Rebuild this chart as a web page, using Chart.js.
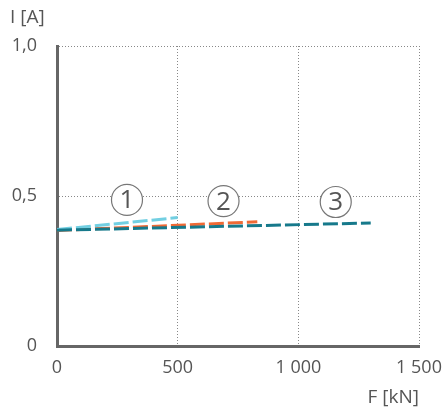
<!DOCTYPE html>
<html>
<head>
<meta charset="utf-8">
<script src="https://cdn.jsdelivr.net/npm/chart.js@4"></script>
<style>
  html, body { margin: 0; padding: 0; background: #fff; }
  #wrap { width: 443px; height: 410px; position: relative; }
</style>
</head>
<body>
<div id="wrap"><canvas id="chart"></canvas></div>
<script>
// Data
const xTicks = [0, 500, 1000, 1500];
const yTicks = [0, 0.5, 1.0];
const curve1 = [{ x: 0, y: 0.388 }, { x: 500, y: 0.428 }];
const curve2 = [{ x: 0, y: 0.385 }, { x: 830, y: 0.414 }];
const curve3 = [{ x: 0, y: 0.386 }, { x: 1300, y: 0.410 }];
const curveLabels = ['1', '2', '3'];
const labelPos = [{ x: 290, y: 0.487 }, { x: 690, y: 0.483 }, { x: 1155, y: 0.48 }];

const txt = '#555';
const font = 'Open Sans';

// Axis titles and circled curve numbers
const decor = {
    id: 'decor',
    afterDraw(chart) {
        const c = chart.ctx;
        const xs = chart.scales.x, ys = chart.scales.y;
        c.save();
        c.fillStyle = txt;
        c.font = '19px "' + font + '"';
        c.textBaseline = 'middle';
        c.textAlign = 'left';
        c.fillText('I [A]', 10, 18);
        c.textAlign = 'right';
        c.fillText('F [kN]', 419, 398);

        labelPos.forEach((p, i) => {
            const px = xs.getPixelForValue(p.x);
            const py = ys.getPixelForValue(p.y);
            c.beginPath();
            c.arc(px, py, 15.5, 0, Math.PI * 2);
            c.fillStyle = '#fff';
            c.fill();
            c.strokeStyle = '#777';
            c.lineWidth = 1.2;
            c.stroke();
            c.fillStyle = txt;
            c.textAlign = 'center';
            c.font = '26px "' + font + '"';
            c.fillText(curveLabels[i], px, py + 1);
        });
        c.restore();
    }
};

const ds = (data, color, order) => ({
    data: data,
    borderColor: color,
    borderWidth: 3,
    borderDash: [15, 4],
    pointRadius: 0,
    fill: false,
    showLine: true,
    tension: 0,
    order: order
});

new Chart(document.getElementById('chart'), {
    type: 'scatter',
    data: {
        datasets: [
            ds(curve1, '#72cfe2', 1),
            ds(curve2, '#f06a35', 2),
            ds(curve3, '#16798b', 0)
        ]
    },
    options: {
        responsive: true,
        maintainAspectRatio: false,
        animation: false,
        layout: { padding: { top: 46, right: 24, left: 0, bottom: 0 } },
        plugins: { legend: { display: false }, tooltip: { enabled: false } },
        scales: {
            x: {
                type: 'linear',
                min: 0,
                max: 1500,
                afterBuildTicks: s => { s.ticks = xTicks.map(v => ({ value: v })); },
                afterFit: s => { s.height = 64; s.paddingLeft = 0; s.paddingRight = 0; },
                ticks: {
                    color: txt,
                    font: { family: font, size: 18 },
                    padding: 11,
                    maxRotation: 0,
                    callback: v => v >= 1000 ? String(v).replace(/(\d)(\d{3})$/, '$1 $2') : String(v)
                },
                grid: { color: '#888', lineWidth: 1, drawTicks: false },
                border: { display: true, color: '#666', width: 3, dash: [1, 2] }
            },
            y: {
                type: 'linear',
                min: 0,
                max: 1,
                afterBuildTicks: s => { s.ticks = yTicks.map(v => ({ value: v })); },
                afterFit: s => { s.width = 57; s.paddingTop = 0; s.paddingBottom = 0; },
                ticks: {
                    color: txt,
                    font: { family: font, size: 18 },
                    padding: 20,
                    callback: v => v === 0 ? '0' : v.toFixed(1).replace('.', ',')
                },
                grid: { color: '#888', lineWidth: 1, drawTicks: false },
                border: { display: true, color: '#666', width: 3, dash: [1, 2] }
            }
        }
    },
    plugins: [decor]
});
</script>
</body>
</html>
